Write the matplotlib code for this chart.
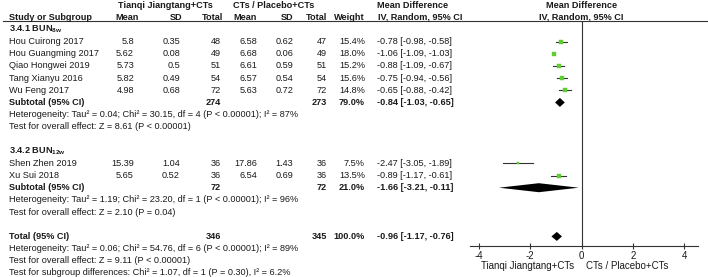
import matplotlib
matplotlib.use("Agg")
import matplotlib.pyplot as plt
from matplotlib.transforms import blended_transform_factory

plt.rcParams["font.family"] = ["Liberation Sans", "DejaVu Sans"]
plt.rcParams["mathtext.fontset"] = "custom"
plt.rcParams["mathtext.rm"] = "Liberation Sans"
plt.rcParams["mathtext.bf"] = "Liberation Sans:bold"

# ---- data -------------------------------------------------------------
studies = ["Hou Cuirong 2017", "Hou Guangming 2017", "Qiao Hongwei 2019",
           "Tang Xianyu 2016", "Wu Feng 2017", "Shen Zhen 2019", "Xu Sui 2018"]
study_group = [0, 0, 0, 0, 0, 1, 1]
exp_mean = [5.8, 5.62, 5.73, 5.82, 4.98, 15.39, 5.65]
exp_sd = [0.35, 0.08, 0.5, 0.49, 0.68, 1.04, 0.52]
exp_n = [48, 49, 51, 54, 72, 36, 36]
ctl_mean = [6.58, 6.68, 6.61, 6.57, 5.63, 17.86, 6.54]
ctl_sd = [0.62, 0.06, 0.59, 0.54, 0.72, 1.43, 0.69]
ctl_n = [47, 49, 51, 54, 72, 36, 36]
weight = [15.4, 18.0, 15.2, 15.6, 14.8, 7.5, 13.5]
md = [-0.78, -1.06, -0.88, -0.75, -0.65, -2.47, -0.89]
ci_lo = [-0.98, -1.09, -1.09, -0.94, -0.88, -3.05, -1.17]
ci_hi = [-0.58, -1.03, -0.67, -0.56, -0.42, -1.89, -0.61]

groups = [r"3.4.1 BUN$_{\mathbf{8w}}$", r"3.4.2 BUN$_{\mathbf{12w}}$"]
sub_exp_n = [274, 72]
sub_ctl_n = [273, 72]
sub_weight = [79.0, 21.0]
sub_md = [-0.84, -1.66]
sub_lo = [-1.03, -3.21]
sub_hi = [-0.65, -0.11]
sub_het = ["Heterogeneity: Tau² = 0.04; Chi² = 30.15, df = 4 (P < 0.00001); I² = 87%",
           "Heterogeneity: Tau² = 1.19; Chi² = 23.20, df = 1 (P < 0.00001); I² = 96%"]
sub_z = ["Test for overall effect: Z = 8.61 (P < 0.00001)",
         "Test for overall effect: Z = 2.10 (P = 0.04)"]

tot_exp_n, tot_ctl_n, tot_weight = 346, 345, 100.0
tot_md, tot_lo, tot_hi = -0.96, -1.17, -0.76
tot_notes = ["Heterogeneity: Tau² = 0.06; Chi² = 54.76, df = 6 (P < 0.00001); I² = 89%",
             "Test for overall effect: Z = 9.11 (P < 0.00001)",
             "Test for subgroup differences: Chi² = 1.07, df = 1 (P = 0.30), I² = 6.2%"]

exp_label = "Tianqi Jiangtang+CTs"
ctl_label = "CTs / Placebo+CTs"
xticks = [-4, -2, 0, 2, 4]

# ---- layout -----------------------------------------------------------
W, H = 708, 277
FS = 6.6
TXT = "#1a1a1a"
LINE = "#333333"
GREEN = "#5fcc2f"
ROW0, ROWH = 5, 12.18          # pixel y of row 0, row height


def rows_of(pix):
    return (pix - ROW0) / ROWH


fig = plt.figure(figsize=(W / 100, H / 100), dpi=100)
tx = fig.add_axes([0, 0, 1, 1])
tx.set_xlim(0, W)
tx.set_ylim(rows_of(H), rows_of(0))
tx.axis("off")

# forest panel: x 470..698 px, y 20..246 px
fx0, fx1, fy0, fy1 = 470, 698, 20.5, 246
zero_px, unit_px = 581.5, 25.7
fa = fig.add_axes([fx0 / W, 1 - fy1 / H, (fx1 - fx0) / W, (fy1 - fy0) / H])
fa.set_xlim((fx0 - zero_px) / unit_px, (fx1 - zero_px) / unit_px)
fa.set_ylim(rows_of(fy1), rows_of(fy0))
fa.patch.set_alpha(0)
for s in ["top", "left", "right"]:
    fa.spines[s].set_visible(False)
fa.spines["bottom"].set_color(LINE)
fa.spines["bottom"].set_linewidth(0.8)
fa.set_yticks([])
fa.set_xticks(xticks)
fa.set_xticklabels([str(t) for t in xticks])
fa.tick_params(axis="x", direction="inout", length=5, width=0.8, color=LINE,
               labelsize=FS + 0.4, labelcolor=TXT, pad=0.8)
fa.axvline(0, color=LINE, lw=0.8)

# columns (pixel x)
X_NAME = 9
X_EM, X_ES, X_EN = 134, 180, 221
X_CM, X_CS, X_CN, X_W = 257, 293, 327, 365
X_CI = 377


def put(x, row, s, ha="left", bold=False):
    tx.text(x, row, s, ha=ha, va="center", fontsize=FS, color=TXT,
            fontweight="bold" if bold else "normal")


# headers
put(165, 0, exp_label, "center", True)
put(274, 0, ctl_label, "center", True)
put(X_CI, 0, "Mean Difference", bold=True)
put(zero_px, 0, "Mean Difference", "center", True)
put(X_NAME, 1, "Study or Subgroup", bold=True)
put(139, 1, "Mean", "right", True)
put(182, 1, "SD", "right", True)
put(223, 1, "Total", "right", True)
put(X_CM, 1, "Mean", "right", True)
put(X_CS, 1, "SD", "right", True)
put(X_CN, 1, "Total", "right", True)
put(X_W, 1, "Weight", "right", True)
put(X_CI + 1, 1, "IV, Random, 95% CI", bold=True)
put(zero_px, 1, "IV, Random, 95% CI", "center", True)
tx.plot([3, W], [rows_of(20.5)] * 2, color=LINE, lw=0.8)


def fmt_ci(m, lo, hi):
    return f"{m:.2f} [{lo:.2f}, {hi:.2f}]"


def diamond(row, m, lo, hi, h=0.37):
    fa.fill([lo, m, hi, m], [row, row - h, row, row + h], color="black", lw=0)


row = 2
for g, gname in enumerate(groups):
    put(X_NAME, row, gname, bold=True)
    row += 1
    for i, name in enumerate(studies):
        if study_group[i] != g:
            continue
        put(X_NAME, row, name)
        put(X_EM, row, f"{exp_mean[i]:g}", "right")
        put(X_ES, row, f"{exp_sd[i]:g}", "right")
        put(X_EN, row, str(exp_n[i]), "right")
        put(X_CM, row, f"{ctl_mean[i]:g}", "right")
        put(X_CS, row, f"{ctl_sd[i]:g}", "right")
        put(X_CN, row, str(ctl_n[i]), "right")
        put(X_W, row, f"{weight[i]:.1f}%", "right")
        put(X_CI, row, fmt_ci(md[i], ci_lo[i], ci_hi[i]))
        fa.plot([ci_lo[i], ci_hi[i]], [row, row], color=LINE, lw=0.8)
        fa.plot(md[i], row, marker="s", ms=0.68 * weight[i] ** 0.5,
                color=GREEN, mec=GREEN, mew=0.3)
        row += 1
    put(X_NAME, row, "Subtotal (95% CI)", bold=True)
    put(X_EN, row, str(sub_exp_n[g]), "right", True)
    put(X_CN, row, str(sub_ctl_n[g]), "right", True)
    put(X_W, row, f"{sub_weight[g]:.1f}%", "right", True)
    put(X_CI, row, fmt_ci(sub_md[g], sub_lo[g], sub_hi[g]), bold=True)
    diamond(row, sub_md[g], sub_lo[g], sub_hi[g])
    put(X_NAME, row + 1, sub_het[g])
    put(X_NAME, row + 2, sub_z[g])
    row += 4

put(X_NAME, row, "Total (95% CI)", bold=True)
put(X_EN, row, str(tot_exp_n), "right", True)
put(X_CN, row, str(tot_ctl_n), "right", True)
put(X_W, row, f"{tot_weight:.1f}%", "right", True)
put(X_CI, row, fmt_ci(tot_md, tot_lo, tot_hi), bold=True)
diamond(row, tot_md, tot_lo, tot_hi)
for k, note in enumerate(tot_notes):
    put(X_NAME, row + 1 + k, note)

# direction labels under the axis
lab_row = rows_of(266)
tr = blended_transform_factory(fa.transData, tx.transData)
tx.text(-7.5 / unit_px, lab_row, exp_label, transform=tr, ha="right",
        va="center", fontsize=FS + 0.4, color=TXT)
tx.text(4.5 / unit_px, lab_row, ctl_label, transform=tr, ha="left",
        va="center", fontsize=FS + 0.4, color=TXT)

fig.savefig("out.png", dpi=100)
